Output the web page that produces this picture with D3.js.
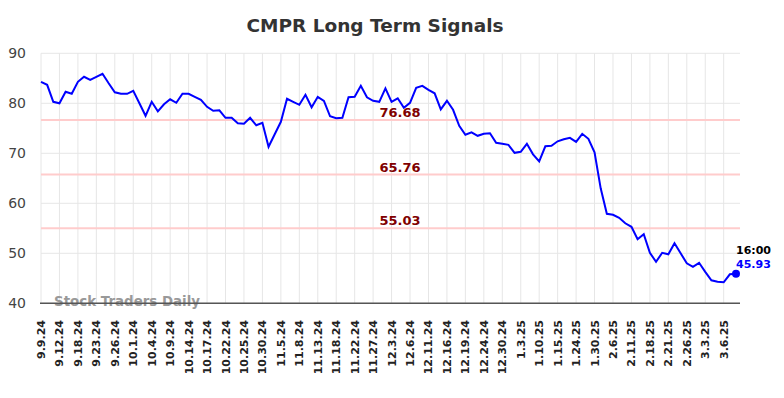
<!DOCTYPE html>
<html><head><meta charset="utf-8">
<script src="https://cdn.jsdelivr.net/npm/d3@7"></script>
<style>body{margin:0;background:#fff}svg{display:block}</style>
</head><body><div id="chart"></div>
<script>
const tickLabels = ["9.9.24","9.12.24","9.18.24","9.23.24","9.26.24","10.1.24","10.4.24","10.9.24","10.14.24","10.17.24","10.22.24","10.25.24","10.30.24","11.5.24","11.8.24","11.13.24","11.18.24","11.22.24","11.27.24","12.3.24","12.6.24","12.11.24","12.16.24","12.19.24","12.24.24","12.30.24","1.3.25","1.10.25","1.15.25","1.24.25","1.30.25","2.6.25","2.11.25","2.18.25","2.21.25","2.26.25","3.3.25","3.6.25"];
const values = [84.3,83.7,80.3,80.0,82.3,81.9,84.3,85.3,84.7,85.3,85.9,84.0,82.2,81.9,81.9,82.5,80.0,77.5,80.3,78.4,79.8,80.8,80.1,81.9,
81.9,81.3,80.7,79.3,78.5,78.6,77.1,77.1,76.0,75.9,77.1,75.6,76.1,71.3,73.8,76.3,80.9,80.3,79.7,81.7,79.2,81.3,80.5,77.4,
77.0,77.1,81.2,81.3,83.5,81.2,80.5,80.3,83.0,80.3,81.0,79.1,80.1,83.1,83.5,82.7,82.0,78.8,80.5,78.7,75.5,73.7,74.2,73.5,
73.9,74.0,72.1,71.9,71.7,70.1,70.3,71.9,69.8,68.4,71.4,71.5,72.4,72.8,73.1,72.3,73.9,72.9,70.2,63.0,57.9,57.7,57.1,56.0,
55.3,52.8,53.8,50.1,48.3,50.1,49.8,52.0,50.0,48.0,47.3,48.1,46.3,44.6,44.3,44.2,45.8,45.93];
const levels = [76.68, 65.76, 55.03];
const yTicks = [40,50,60,70,80,90];
const lastTime = "16:00";

const W=784,H=398;
const svg=d3.select("#chart").append("svg").attr("width",W).attr("height",H);
const x=d3.scaleLinear().domain([0,values.length-1]).range([41,736]);
const y=d3.scaleLinear().domain([40,90]).range([303.3,53.3]);
const font="DejaVu Sans, sans-serif";

svg.append("text").attr("x",375).attr("y",32).attr("text-anchor","middle")
  .attr("font-family",font).attr("font-weight","bold").attr("font-size",18.5).attr("fill","#333")
  .text("CMPR Long Term Signals");

// grid
svg.append("g").selectAll("line").data(yTicks).join("line")
  .attr("x1",41).attr("x2",740).attr("y1",d=>y(d)).attr("y2",d=>y(d))
  .attr("stroke","#e6e6e6").attr("stroke-width",1);
svg.append("g").selectAll("line").data(tickLabels).join("line")
  .attr("x1",(d,i)=>x(i*3)).attr("x2",(d,i)=>x(i*3)).attr("y1",53.3).attr("y2",303)
  .attr("stroke","#e6e6e6").attr("stroke-width",1);

// y labels
svg.append("g").selectAll("text").data(yTicks).join("text")
  .attr("x",26).attr("y",d=>y(d)+5).attr("text-anchor","end")
  .attr("font-family",font).attr("font-size",14).attr("fill","#444").text(d=>d);

// levels
levels.forEach(v=>{
  svg.append("line").attr("x1",41).attr("x2",740).attr("y1",y(v)).attr("y2",y(v))
    .attr("stroke","#ffcccc").attr("stroke-width",2);
  svg.append("text").attr("x",400).attr("y",y(v)-3).attr("text-anchor","middle")
    .attr("font-family",font).attr("font-weight","bold").attr("font-size",13).attr("fill","#800000")
    .text(v.toFixed(2));
});

// watermark
svg.append("text").attr("x",54).attr("y",306).attr("font-family",font).attr("font-weight","bold")
  .attr("font-size",13.4).attr("fill","#999").text("Stock Traders Daily");

// axis line
svg.append("line").attr("x1",40).attr("x2",740).attr("y1",303.3).attr("y2",303.3)
  .attr("stroke","#555").attr("stroke-width",1.5);

// x labels
svg.append("g").selectAll("text").data(tickLabels).join("text")
  .attr("transform",(d,i)=>`translate(${x(i*3)+4},320) rotate(-90)`)
  .attr("text-anchor","end").attr("font-family",font).attr("font-weight","bold")
  .attr("font-size",11).attr("fill","#222").text(d=>d);

// line
svg.append("path").datum(values)
  .attr("d",d3.line().x((d,i)=>x(i)).y(d=>y(d)))
  .attr("fill","none").attr("stroke","#0000ff").attr("stroke-width",2);

const li=values.length-1;
svg.append("circle").attr("cx",x(li)).attr("cy",y(values[li])).attr("r",4).attr("fill","#0000ff");
svg.append("text").attr("x",x(li)).attr("y",254).attr("font-family",font).attr("font-weight","bold")
  .attr("font-size",11).attr("fill","#000").text(lastTime);
svg.append("text").attr("x",x(li)).attr("y",268).attr("font-family",font).attr("font-weight","bold")
  .attr("font-size",11).attr("fill","#0000ff").text(values[li].toFixed(2));
</script></body></html>
